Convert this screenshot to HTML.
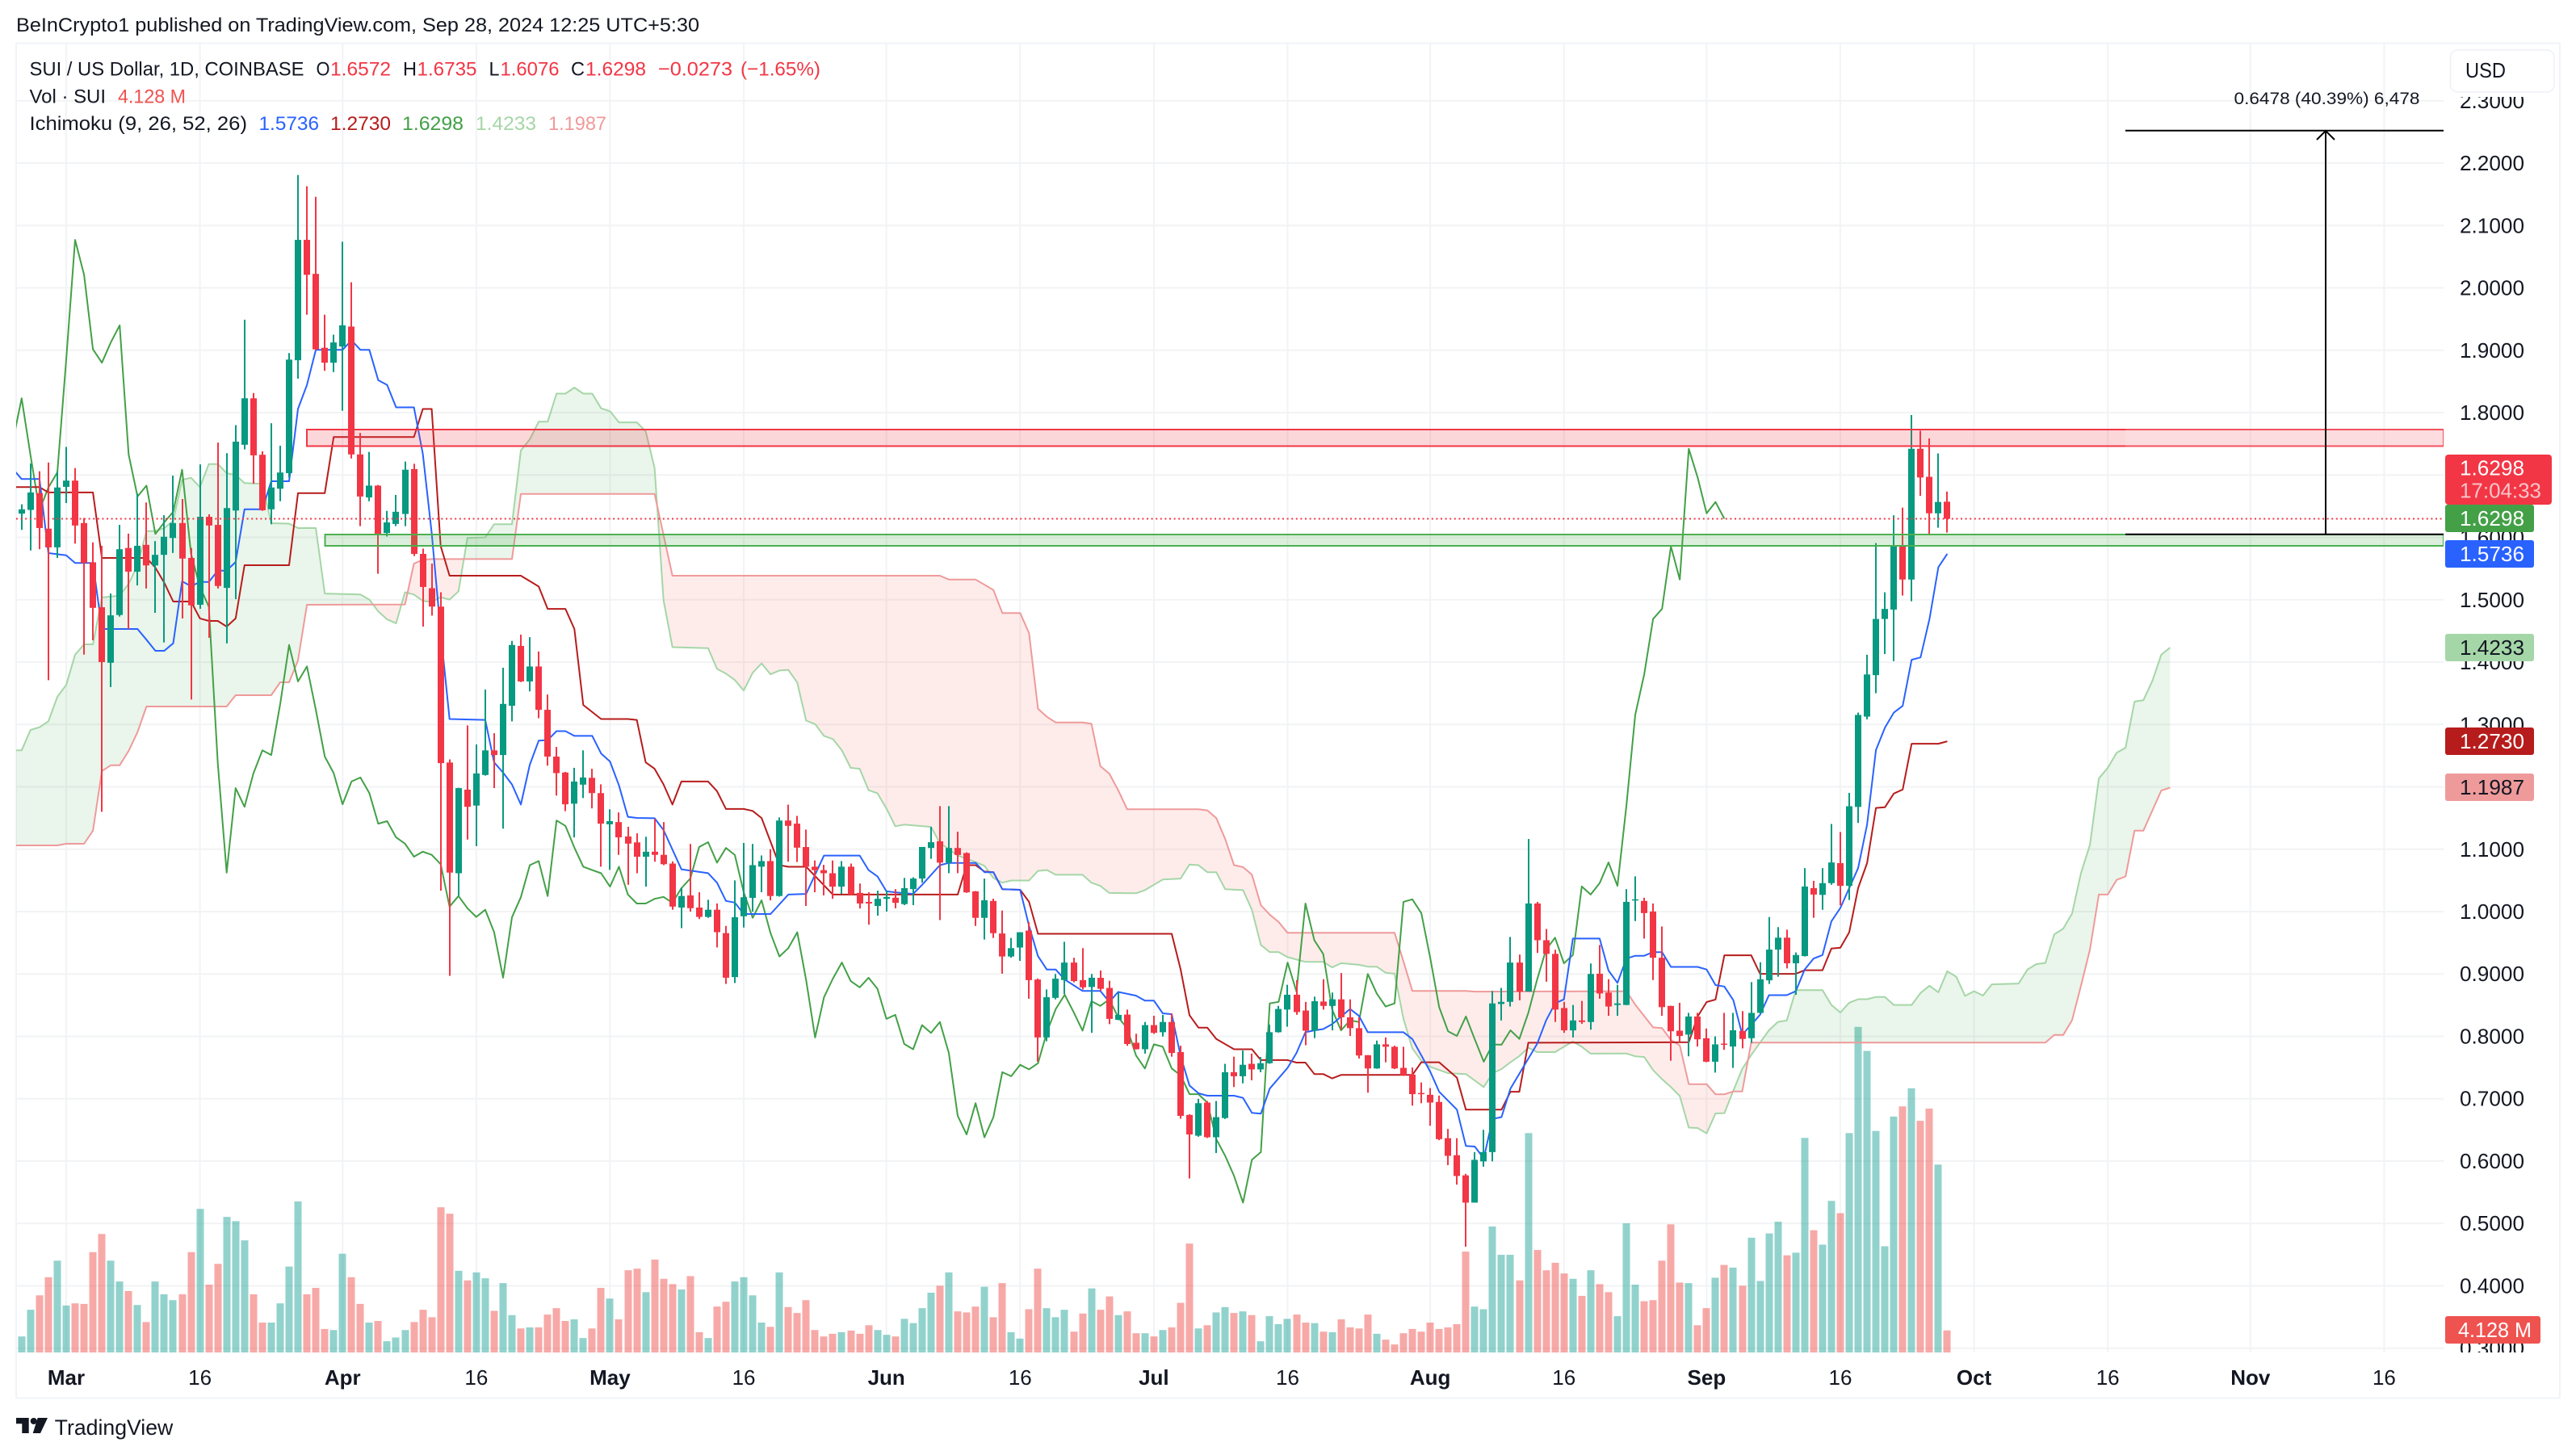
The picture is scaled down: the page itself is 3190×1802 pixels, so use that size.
<!DOCTYPE html>
<html lang="en">
<head>
<meta charset="utf-8">
<title>SUI / US Dollar chart</title>
<style>
html,body{margin:0;padding:0;background:#fff;width:3190px;height:1802px;overflow:hidden}
svg{display:block}
text{font-family:"Liberation Sans",sans-serif;fill:#131722;dominant-baseline:central}
</style>
</head>
<body>
<svg id="chart" xmlns="http://www.w3.org/2000/svg" width="3190" height="1802" viewBox="0 0 3190 1802">
  <defs>
    <clipPath id="pane-clip"><rect x="20" y="54" width="3006" height="1621"/></clipPath>
    <clipPath id="axis-clip"><rect x="3027" y="120" width="143" height="1555"/></clipPath>
  </defs>
  <rect x="0" y="0" width="3190" height="1802" fill="#ffffff"/>
  <text x="20" y="31.5" font-size="24.5" textLength="846" lengthAdjust="spacingAndGlyphs">BeInCrypto1 published on TradingView.com, Sep 28, 2024 12:25 UTC+5:30</text>
  <rect x="20" y="53.5" width="3150" height="1678" fill="none" stroke="#f0f3fa" stroke-width="2"/>
  <g id="grid"></g>
  <g id="plot" clip-path="url(#pane-clip)"></g>

  <g clip-path="url(#pane-clip)">
    <rect x="380" y="532" width="2646" height="20.5" fill="rgba(242,54,69,0.2)" stroke="#f23645" stroke-width="2"/>
    <rect x="402.5" y="662" width="2623.5" height="14" fill="rgba(76,175,80,0.2)" stroke="#4caf50" stroke-width="2"/>
    <rect x="2632" y="530" width="394" height="24" fill="rgba(255,255,255,0.14)"/>
    <line x1="2632" y1="161.7" x2="3026" y2="161.7" stroke="#000" stroke-width="2"/>
    <line x1="2632" y1="661.7" x2="3026" y2="661.7" stroke="#000" stroke-width="2"/>
    <line x1="2880" y1="162" x2="2880" y2="661" stroke="#000" stroke-width="2"/>
    <polyline points="2869,173 2880,162 2891,173" fill="none" stroke="#000" stroke-width="2"/>
    <text x="2766.5" y="122" font-size="21.5" textLength="230" lengthAdjust="spacingAndGlyphs">0.6478 (40.39%) 6,478</text>
  </g>

  <g id="price-axis" clip-path="url(#axis-clip)"></g>
  <g id="time-axis"></g>

  <g>
    <rect x="3034.5" y="62" width="128.5" height="52" rx="9" fill="#fff" stroke="#eef0f6" stroke-width="1.5"/>
    <text x="3053" y="88" font-size="25.5" textLength="50" lengthAdjust="spacingAndGlyphs">USD</text>
  </g>

  <g>
    <rect x="3028" y="563" width="132" height="62" rx="4" fill="#f23645"/>
    <text x="3046" y="579.5" font-size="26" textLength="80" lengthAdjust="spacingAndGlyphs" style="fill:#fff">1.6298</text>
    <text x="3046" y="607.5" font-size="26" textLength="101" lengthAdjust="spacingAndGlyphs" style="fill:#fbc4ca">17:04:33</text>
    <rect x="3028" y="625" width="110" height="34" rx="3" fill="#43a047"/>
    <text x="3046" y="642" font-size="26" textLength="80" lengthAdjust="spacingAndGlyphs" style="fill:#fff">1.6298</text>
    <rect x="3028" y="669" width="110" height="34" rx="3" fill="#2962ff"/>
    <text x="3046" y="686" font-size="26" textLength="80" lengthAdjust="spacingAndGlyphs" style="fill:#fff">1.5736</text>
    <rect x="3028" y="785" width="110" height="34" rx="3" fill="#a5d6a7"/>
    <text x="3046" y="802" font-size="26" textLength="80" lengthAdjust="spacingAndGlyphs">1.4233</text>
    <rect x="3028" y="901" width="110" height="34" rx="3" fill="#b71c1c"/>
    <text x="3046" y="918" font-size="26" textLength="80" lengthAdjust="spacingAndGlyphs" style="fill:#fff">1.2730</text>
    <rect x="3028" y="958" width="110" height="34" rx="3" fill="#ef9a9a"/>
    <text x="3046" y="975" font-size="26" textLength="80" lengthAdjust="spacingAndGlyphs">1.1987</text>
    <rect x="3028" y="1630" width="118" height="34" rx="3" fill="#ef5350"/>
    <text x="3044" y="1647" font-size="26" textLength="91" lengthAdjust="spacingAndGlyphs" style="fill:#fff">4.128 M</text>
  </g>

  <g font-size="24.5">
    <text x="36.5" y="86" textLength="340" lengthAdjust="spacingAndGlyphs">SUI / US Dollar, 1D, COINBASE</text>
    <text x="391.5" y="86" textLength="17" lengthAdjust="spacingAndGlyphs">O</text>
    <text x="409" y="86" textLength="75" lengthAdjust="spacingAndGlyphs" style="fill:#f23645">1.6572</text>
    <text x="499" y="86" textLength="17" lengthAdjust="spacingAndGlyphs">H</text>
    <text x="516.5" y="86" textLength="74" lengthAdjust="spacingAndGlyphs" style="fill:#f23645">1.6735</text>
    <text x="605.5" y="86" textLength="13" lengthAdjust="spacingAndGlyphs">L</text>
    <text x="619.5" y="86" textLength="73" lengthAdjust="spacingAndGlyphs" style="fill:#f23645">1.6076</text>
    <text x="707" y="86" textLength="17" lengthAdjust="spacingAndGlyphs">C</text>
    <text x="725" y="86" textLength="75" lengthAdjust="spacingAndGlyphs" style="fill:#f23645">1.6298</text>
    <text x="815" y="86" textLength="92" lengthAdjust="spacingAndGlyphs" style="fill:#f23645">−0.0273</text>
    <text x="917" y="86" textLength="99" lengthAdjust="spacingAndGlyphs" style="fill:#f23645">(−1.65%)</text>
    <text x="36.5" y="120" textLength="94.5" lengthAdjust="spacingAndGlyphs">Vol · SUI</text>
    <text x="146" y="120" textLength="84" lengthAdjust="spacingAndGlyphs" style="fill:#ef5350">4.128 M</text>
    <text x="36.5" y="153.5" textLength="269.5" lengthAdjust="spacingAndGlyphs">Ichimoku (9, 26, 52, 26)</text>
    <text x="320.5" y="153.5" textLength="74.5" lengthAdjust="spacingAndGlyphs" style="fill:#2962ff">1.5736</text>
    <text x="409" y="153.5" textLength="75" lengthAdjust="spacingAndGlyphs" style="fill:#b71c1c">1.2730</text>
    <text x="498" y="153.5" textLength="76" lengthAdjust="spacingAndGlyphs" style="fill:#43a047">1.6298</text>
    <text x="589" y="153.5" textLength="75" lengthAdjust="spacingAndGlyphs" style="fill:#a5d6a7">1.4233</text>
    <text x="679" y="153.5" textLength="72" lengthAdjust="spacingAndGlyphs" style="fill:#ef9a9a">1.1987</text>
  </g>

  <g>
    <path d="M20 1756H35.7V1775H27.3V1763.3H20Z" fill="#131722"/>
    <circle cx="41.7" cy="1760" r="4" fill="#131722"/>
    <polygon points="46.7,1756 59,1756 50,1775 40.7,1775" fill="#131722"/>
    <text x="67.7" y="1768" font-size="26.4" textLength="146.6" lengthAdjust="spacingAndGlyphs">TradingView</text>
  </g>
</svg>

<script>
// First entry of the candle arrays is day -5 relative to Mar 1 (Feb 25).
const firstDay = -5;
const opens = [1.638,1.644,1.671,1.614,1.584,1.681,1.691,1.623,1.56,1.488,1.399,1.4755,1.583,1.545,1.588,1.555,1.572,1.599,1.623,1.567,1.492,1.633,1.62,1.519,1.643,1.7485,1.823,1.7325,1.645,1.678,1.703,1.884,2.077,2.0225,1.904,1.88,1.906,1.938,1.733,1.664,1.683,1.607,1.6215,1.6375,1.7095,1.5735,1.5185,1.489,1.239,1.0615,1.1955,1.17,1.219,1.2585,1.251,1.33,1.426,1.369,1.393,1.3235,1.2485,1.223,1.173,1.2035,1.2145,1.19,1.14,1.1435,1.1205,1.111,1.088,1.096,1.091,1.077,1.0065,1.026,1.0065,0.9915,1.003,0.9655,0.895,0.9925,1.022,1.072,1.081,1.025,1.146,1.141,1.1035,1.072,1.0665,1.0615,1.04,1.072,1.03,1.0155,1.009,1.0205,1.0222,1.012,1.036,1.053,1.102,1.1128,1.0785,1.102,1.0939,1.0325,0.99,1.0171,0.9649,0.928,0.9424,0.9695,0.8911,0.7982,0.8617,0.8902,0.9183,0.8902,0.8791,0.8938,0.8776,0.8265,0.8349,0.7897,0.7793,0.818,0.8066,0.823,0.7748,0.674,0.6407,0.6938,0.6382,0.669,0.7425,0.736,0.7559,0.747,0.7569,0.8066,0.8429,0.8667,0.8414,0.8091,0.8558,0.8488,0.8593,0.8305,0.8131,0.7698,0.7485,0.7872,0.7833,0.7495,0.7386,0.7092,0.7063,0.6948,0.6367,0.6094,0.5771,0.5334,0.5995,0.6144,0.8518,0.8553,0.9183,0.8717,1.013,0.9541,0.9322,0.8454,0.8096,0.8255,0.823,0.9004,0.8702,0.8503,0.8503,1.0181,1.0171,1.0002,0.926,0.8488,0.8091,0.8028,0.8318,0.797,0.7593,0.7883,0.7836,0.8086,0.797,0.8376,0.8898,0.9391,0.9582,0.9171,0.9287,1.0377,1.0268,1.0456,1.0777,1.0413,1.1678,1.3126,1.3791,1.4692,1.4842,1.5855,1.5324,1.7421,1.6971,1.6386,1.6572];
const highs = [1.653,1.7185,1.706,1.72,1.706,1.745,1.711,1.631,1.592,1.5865,1.51,1.62,1.606,1.67,1.656,1.594,1.6355,1.699,1.6615,1.583,1.717,1.637,1.752,1.735,1.78,1.949,1.8315,1.738,1.783,1.747,1.8955,2.181,2.163,2.146,1.957,1.925,2.074,2.009,1.7675,1.737,1.684,1.6425,1.668,1.7215,1.718,1.582,1.558,1.512,1.244,1.1985,1.2985,1.268,1.356,1.286,1.391,1.434,1.444,1.44,1.417,1.348,1.264,1.224,1.2305,1.2585,1.229,1.204,1.164,1.159,1.136,1.1255,1.12,1.1485,1.1435,1.0805,1.0385,1.1085,1.031,1.019,1.013,0.977,1.05,1.11,1.1085,1.09,1.1,1.151,1.1715,1.1535,1.1315,1.082,1.075,1.082,1.081,1.077,1.045,1.031,1.0335,1.0335,1.036,1.054,1.055,1.1036,1.1358,1.1691,1.1691,1.1281,1.095,1.033,1.0529,1.0207,1.0017,0.9577,0.9669,0.9833,0.8927,0.8752,0.9,0.9516,0.926,0.9414,0.9,0.9055,0.8891,0.8702,0.8429,0.8041,0.823,0.833,0.8344,0.8369,0.785,0.675,0.6998,0.6963,0.6963,0.7559,0.7674,0.7773,0.7723,0.7669,0.819,0.8488,0.8826,0.8901,0.8553,0.8637,0.8916,0.8702,0.9015,0.8593,0.8305,0.77,0.7932,0.7982,0.785,0.7833,0.75,0.7261,0.7172,0.705,0.6516,0.6367,0.5796,0.6144,0.6501,0.8727,0.8776,0.9593,0.9311,1.1164,1.0156,0.9721,0.9388,0.8553,0.8503,0.8568,0.9168,0.9465,0.8916,0.8826,1.036,1.0565,1.0222,1.013,0.9762,0.849,0.8538,0.8376,0.8376,0.8126,0.7999,0.8376,0.8376,0.8405,0.8869,0.9188,0.9913,0.9751,0.971,0.9345,1.0697,1.0493,1.0697,1.1405,1.1276,1.1903,1.319,1.4118,1.5909,1.512,1.6354,1.6477,1.7962,1.771,1.7587,1.7346,1.6735];
const lows = [1.612,1.579,1.581,1.371,1.567,1.655,1.59,1.412,1.435,1.16,1.36,1.473,1.453,1.523,1.518,1.479,1.4315,1.575,1.47,1.34,1.4855,1.439,1.518,1.43,1.501,1.741,1.686,1.6425,1.621,1.658,1.696,1.8545,1.957,1.9,1.867,1.865,1.803,1.7265,1.618,1.658,1.5417,1.6015,1.618,1.618,1.57,1.457,1.4746,1.0335,0.897,1.0258,1.1155,1.105,1.218,1.198,1.133,1.305,1.368,1.353,1.31,1.234,1.186,1.161,1.119,1.182,1.1655,1.072,1.067,1.091,1.043,1.0615,1.04,1.08,1.0745,1.003,0.9735,1,0.988,0.99,0.9425,0.884,0.8855,0.9745,1,1.031,1.018,1.024,1.08,1.0795,1.009,1.031,1.026,1.0205,1.0285,1.026,1.005,0.979,0.9935,1,1.0053,1.0104,1.0104,1.0463,1.0846,0.9864,1.0616,1.0616,1.03,0.977,0.9552,0.9577,0.9004,0.926,0.921,0.8603,0.7594,0.7922,0.8593,0.8677,0.8866,0.875,0.8056,0.8727,0.8195,0.826,0.7848,0.779,0.7723,0.804,0.7997,0.7674,0.668,0.5721,0.639,0.637,0.6129,0.6675,0.7187,0.7246,0.7296,0.7425,0.756,0.806,0.8155,0.8345,0.7857,0.7972,0.8429,0.8096,0.8106,0.8006,0.7644,0.7097,0.748,0.7584,0.7475,0.7365,0.6889,0.6928,0.6566,0.6335,0.5935,0.5622,0.4628,0.5334,0.591,0.5995,0.8255,0.8478,0.8578,0.8717,0.9337,0.8876,0.823,0.8056,0.7982,0.82,0.8106,0.8603,0.8329,0.8329,0.85,0.9848,0.9567,0.8902,0.8329,0.7609,0.7907,0.768,0.7836,0.7585,0.7419,0.7784,0.7494,0.7807,0.7894,0.837,0.884,0.8956,0.9089,0.8666,0.928,0.9901,1.0029,1.043,1.0099,1.0186,1.1421,1.3083,1.3501,1.4129,1.4016,1.5067,1.4976,1.6665,1.6043,1.6155,1.6076];
const closes = [1.645,1.672,1.615,1.584,1.68,1.691,1.619,1.559,1.487,1.4,1.475,1.581,1.545,1.5865,1.555,1.572,1.601,1.623,1.566,1.491,1.633,1.619,1.522,1.647,1.7535,1.823,1.7315,1.6435,1.68,1.704,1.885,2.077,2.021,1.9015,1.88,1.9125,1.94,1.733,1.6655,1.683,1.6055,1.624,1.641,1.7085,1.5735,1.5205,1.489,1.238,1.0625,1.198,1.168,1.2215,1.2585,1.251,1.333,1.4275,1.369,1.393,1.3235,1.2485,1.222,1.172,1.2085,1.215,1.19,1.141,1.145,1.119,1.109,1.088,1.096,1.091,1.076,1.008,1.025,1.0055,0.9915,1.003,0.967,0.894,0.991,1.023,1.0745,1.081,1.025,1.146,1.1375,1.1025,1.072,1.0665,1.0615,1.04,1.072,1.0275,1.013,1.013,1.0205,1.0235,1.014,1.0376,1.053,1.1036,1.1113,1.0785,1.102,1.0908,1.0309,0.99,1.0181,0.9654,0.928,0.9414,0.9669,0.8901,0.7982,0.8627,0.8925,0.9183,0.8886,0.8786,0.894,0.8762,0.828,0.8344,0.7877,0.7793,0.818,0.8056,0.823,0.7733,0.6725,0.6427,0.6928,0.6382,0.6705,0.7425,0.736,0.7544,0.747,0.7569,0.8066,0.8439,0.8667,0.8389,0.8091,0.8563,0.8488,0.8593,0.8305,0.8131,0.7693,0.7485,0.7872,0.7833,0.7485,0.7376,0.7073,0.7073,0.6938,0.6352,0.6084,0.5761,0.5334,0.602,0.6144,0.8528,0.8553,0.9183,0.8717,1.013,0.9541,0.9322,0.8429,0.8096,0.8255,0.823,0.9,0.8687,0.8478,0.8528,1.0156,1.0197,0.9976,0.926,0.8468,0.8081,0.8006,0.8318,0.7952,0.7593,0.7871,0.7865,0.8097,0.7958,0.8376,0.8915,0.9391,0.9582,0.9171,0.9304,1.0402,1.0273,1.0456,1.0788,1.0413,1.1689,1.3153,1.3802,1.4692,1.4853,1.5855,1.5324,1.7421,1.696,1.6386,1.6568,1.6298];
const volumes = [3,8,10.7,14.1,17.2,8.8,9.2,9.1,18.8,22.2,17.2,13.3,11.5,8.9,5.7,13.3,10.9,9.8,10.9,18.8,26.9,12.7,16.6,25.4,24.6,21,10.9,5.6,5.6,9.2,16.1,28.3,10.9,12.1,4.4,4.2,18.5,14.1,9.1,5.6,5.9,2.1,2.8,4.2,5.7,8,6.6,27.2,26,15.3,13.5,15,13.9,7.8,13,7,4.5,4.7,4.7,7.1,8.3,5.9,6.2,2.7,4.5,12.1,10.1,6.2,15.4,15.7,11.3,17.4,13.8,12.8,11.8,14.3,3.8,2.7,8.6,9.5,13.3,14.1,10.7,5.6,4.8,15,8.5,7.4,9.8,4.2,3,3.5,3.8,4.1,3.5,5.1,4.2,3.3,3,6.3,5.5,8.3,11.2,12.5,15,7.7,7.5,8.6,12.3,6.6,13,3.8,2.6,8.1,15.7,8.3,6.6,8,3.9,7.3,12,8,10.5,7,7.7,3.6,3.6,3,4.2,4.7,9.3,20.4,4.5,5.1,7.5,8.5,7.4,7.7,7,2.1,6.8,5.3,6.3,7.1,5.6,5.5,3.9,3.8,6.2,4.7,4.5,7.1,3.5,2.4,1.5,3.6,4.4,3.9,5.6,4.4,4.7,5.3,18.9,8.6,8.1,23.6,18.3,18.3,13.5,41.1,19.2,15.4,16.8,14.8,13.8,10.6,15.4,12.8,11.3,6.8,24.2,12.7,9.6,9.8,17.2,24,13.1,13,5.1,8.3,14,16.4,15.9,12.5,21.5,13.4,22.3,24.5,18.2,18.7,40.2,22.9,20.2,28.4,26.1,41.1,61,56.5,41.5,19.9,44.2,46.1,49.5,43.4,45.7,35.2,4.128];

// Ichimoku lines, read as [day, price] vertices.
const conversionLine = [[-6,1.71],[-5,1.6935],[-3,1.6935],[-2,1.5748],[0,1.5713],[1,1.559],[3,1.559],[4,1.4531],[8,1.4531],[9,1.4359],[10,1.4182],[11,1.4182],[12,1.4302],[13,1.5295],[14,1.5217],[15,1.5286],[16,1.5286],[17,1.5467],[18,1.5467],[19,1.5605],[20,1.6451],[22,1.6451],[23,1.69],[25,1.69],[26,1.806],[27,1.8443],[28,1.9006],[31,1.9006],[32,1.916],[33,1.9006],[34,1.9006],[35,1.852],[36,1.8443],[37,1.8085],[39,1.8085],[40,1.734],[41,1.607],[42,1.448],[43,1.3088],[47,1.3073],[48,1.2392],[49,1.2228],[50,1.2039],[51,1.1717],[52,1.2356],[53,1.274],[54,1.275],[55,1.2893],[56,1.2893],[57,1.2817],[59,1.2817],[60,1.2535],[61,1.2407],[62,1.2024],[63,1.152],[64,1.1502],[66,1.1497],[67,1.1307],[69,1.0678],[70,1.0657],[72,1.0616],[73,1.0463],[74,1.0171],[75,1.0145],[76,0.9961],[79,0.9961],[81,1.0273],[83,1.0284],[85,1.0898],[89,1.0898],[90,1.0665],[91,1.0565],[92,1.0325],[93,1.0309],[95,1.0284],[96,1.0427],[98,1.0744],[99,1.078],[102,1.078],[103,1.0632],[104,1.0632],[105,1.036],[107,1.035],[108,0.9772],[109,0.9286],[110,0.9071],[111,0.9071],[112,0.8911],[114,0.8727],[116,0.8727],[117,0.8553],[118,0.8712],[120,0.8652],[121,0.8573],[122,0.8573],[123,0.8369],[124,0.8354],[125,0.7684],[126,0.7212],[127,0.7087],[128,0.7048],[131,0.7048],[132,0.7013],[133,0.6774],[134,0.676],[135,0.7162],[137,0.7495],[138,0.7733],[139,0.8066],[140,0.8096],[141,0.8116],[142,0.8195],[144,0.8439],[145,0.8329],[146,0.8066],[150,0.8066],[151,0.7957],[153,0.7435],[154,0.7112],[156,0.6824],[157,0.6243],[158,0.6233],[159,0.6044],[160,0.6675],[161,0.6705],[162,0.7162],[165,0.7882],[166,0.8255],[167,0.8528],[168,0.8593],[169,0.9567],[172,0.9567],[173,0.9055],[174,0.8857],[175,0.9246],[176,0.9292],[177,0.9292],[178,0.935],[179,0.935],[180,0.9113],[183,0.9113],[184,0.9072],[185,0.8822],[186,0.8799],[187,0.8579],[188,0.8028],[189,0.8184],[190,0.8347],[191,0.866],[193,0.866],[194,0.8724],[195,0.9072],[196,0.9246],[197,0.9304],[198,0.9843],[199,1.0058],[200,1.0377],[201,1.0697],[202,1.1394],[203,1.259],[204,1.2949],[205,1.319],[206,1.3298],[207,1.4038],[208,1.4075],[209,1.4692],[210,1.5523],[211,1.5736]];
const baseLine = [[-6,1.6805],[-3,1.6805],[-2,1.672],[3,1.672],[4,1.567],[9,1.567],[10,1.5515],[11,1.5273],[12,1.4971],[14,1.4971],[15,1.47],[16,1.466],[17,1.466],[18,1.457],[19,1.47],[20,1.5554],[25,1.5554],[26,1.671],[29,1.671],[30,1.7608],[39,1.7608],[40,1.8059],[41,1.8059],[42,1.5862],[43,1.5386],[51,1.5386],[53,1.5212],[54,1.4854],[56,1.4854],[57,1.4531],[58,1.3313],[60,1.3088],[63,1.3088],[64,1.3073],[65,1.2392],[66,1.229],[67,1.2039],[68,1.1717],[69,1.2085],[72,1.2085],[73,1.1931],[74,1.1645],[76,1.1645],[77,1.1614],[78,1.1501],[80,1.0744],[81,1.0718],[83,1.0718],[86,1.0273],[100,1.0273],[101,1.0744],[102,1.0744],[103,1.0642],[104,1.0632],[105,1.036],[107,1.035],[108,1.0156],[109,0.9644],[124,0.9644],[125,0.9075],[126,0.8339],[127,0.814],[128,0.814],[129,0.7957],[131,0.7793],[133,0.7793],[134,0.7619],[137,0.7619],[138,0.7579],[139,0.7579],[140,0.7395],[141,0.7395],[142,0.7326],[143,0.7381],[151,0.7381],[152,0.7584],[154,0.7584],[156,0.7336],[157,0.6824],[161,0.6824],[162,0.7112],[163,0.7112],[164,0.7897],[182,0.7906],[183,0.8318],[184,0.855],[185,0.859],[186,0.93],[189,0.93],[190,0.9002],[194,0.9002],[195,0.906],[197,0.906],[198,0.9408],[199,0.942],[200,0.9669],[201,1.0377],[202,1.0777],[203,1.1662],[204,1.1673],[205,1.1893],[206,1.1957],[207,1.2692],[210,1.2692],[211,1.273]];
const spanA = [[-6,1.2585],[-5,1.2585],[-4,1.2913],[-3,1.2956],[-2,1.3051],[-1,1.3443],[0,1.3634],[1,1.412],[2,1.4285],[3,1.4285],[4,1.5036],[6,1.5066],[7,1.5256],[8,1.5554],[9,1.6101],[10,1.6101],[11,1.6148],[12,1.6266],[13,1.6922],[14,1.6956],[15,1.6805],[16,1.7176],[17,1.7176],[18,1.703],[19,1.7],[20,1.6872],[22,1.686],[23,1.6227],[25,1.622],[26,1.6149],[28,1.6149],[29,1.51],[33,1.5084],[34,1.5002],[35,1.4813],[36,1.4685],[37,1.4623],[38,1.512],[39,1.5084],[40,1.4982],[41,1.4965],[42,1.5043],[43,1.5002],[44,1.5135],[45,1.599],[47,1.6],[48,1.621],[50,1.621],[51,1.7393],[52,1.7572],[53,1.7854],[54,1.7854],[55,1.8305],[56,1.8305],[57,1.8402],[58,1.8305],[59,1.8305],[60,1.8069],[61,1.8023],[62,1.7844],[64,1.7844],[65,1.77],[66,1.7112],[67,1.4992],[68,1.424],[72,1.4224],[73,1.3892],[74,1.3815],[75,1.3713],[76,1.3544],[77,1.383],[78,1.3979],[79,1.3805],[80,1.3866],[81,1.3876],[82,1.3671],[83,1.3062],[84,1.3006],[85,1.2817],[86,1.2766],[87,1.2586],[88,1.2305],[89,1.229],[90,1.1947],[91,1.1896],[92,1.1655],[93,1.1368],[94,1.1394],[97,1.1358],[98,1.1102],[99,1.1],[100,1.0898],[102,1.0795],[103,1.0734],[104,1.0539],[105,1.0463],[106,1.0499],[108,1.0499],[109,1.0652],[110,1.0667],[111,1.059],[114,1.059],[115,1.0463],[116,1.0412],[117,1.0299],[120,1.0294],[121,1.0345],[123,1.0514],[125,1.0529],[126,1.0755],[127,1.0745],[128,1.0632],[129,1.0632],[130,1.036],[132,1.0345],[133,1.0028],[134,0.9465],[135,0.9352],[136,0.9352],[137,0.927],[139,0.9193],[141,0.9193],[142,0.9106],[143,0.9173],[145,0.9147],[146,0.9117],[147,0.9117],[148,0.902],[149,0.9004],[150,0.828],[151,0.7808],[152,0.7609],[153,0.751],[154,0.746],[155,0.741],[157,0.7395],[159,0.7187],[160,0.741],[161,0.7475],[162,0.7584],[163,0.7684],[164,0.7818],[165,0.7748],[167,0.7748],[168,0.7833],[169,0.7917],[170,0.7833],[171,0.7723],[175,0.7726],[176,0.768],[177,0.7668],[178,0.7459],[179,0.7314],[180,0.7187],[181,0.7042],[182,0.6537],[183,0.653],[184,0.6444],[185,0.6763],[186,0.6769],[187,0.7129],[188,0.7477],[189,0.77],[190,0.79],[191,0.8097],[192,0.8231],[193,0.8254],[194,0.8741],[197,0.8741],[198,0.8503],[199,0.8382],[200,0.8538],[201,0.8596],[202,0.8596],[203,0.8631],[204,0.8631],[205,0.8503],[207,0.8503],[208,0.8695],[209,0.8811],[210,0.8707],[211,0.9043],[212,0.8956],[213,0.8648],[214,0.8724],[215,0.8654],[216,0.8834],[219,0.8846],[220,0.9072],[221,0.9159],[222,0.9176],[223,0.9635],[224,0.9727],[225,0.9971],[226,1.0617],[227,1.1072],[228,1.2134],[229,1.2306],[230,1.2547],[231,1.2627],[232,1.3367],[233,1.3389],[234,1.37],[235,1.4118],[236,1.4233]];
const spanB = [[-6,1.1061],[-1,1.1061],[0,1.1087],[2,1.1087],[3,1.1297],[4,1.2254],[5,1.2346],[6,1.2346],[7,1.2576],[8,1.2878],[9,1.3288],[18,1.3288],[19,1.347],[23,1.347],[24,1.3677],[25,1.3677],[26,1.4026],[27,1.4919],[38,1.4925],[39,1.558],[40,1.5642],[41,1.5652],[50,1.5652],[51,1.6696],[66,1.6696],[68,1.5386],[98,1.5386],[99,1.5325],[102,1.5325],[104,1.5156],[105,1.4787],[107,1.4787],[108,1.4465],[109,1.3252],[110,1.3124],[111,1.3032],[114,1.3032],[115,1.3011],[116,1.2331],[117,1.2213],[118,1.1947],[119,1.164],[127,1.164],[128,1.1624],[129,1.1501],[130,1.1164],[131,1.0744],[132,1.0713],[133,1.0591],[134,1.0104],[135,0.9951],[136,0.9833],[137,0.9659],[149,0.9659],[150,0.92],[151,0.8727],[157,0.8727],[158,0.8717],[175,0.8724],[176,0.8509],[178,0.8144],[179,0.8132],[180,0.7941],[181,0.7854],[182,0.7233],[184,0.7233],[185,0.7071],[186,0.7071],[187,0.7117],[188,0.7117],[189,0.79],[222,0.79],[223,0.8022],[224,0.8022],[225,0.826],[226,0.8811],[227,0.9391],[228,1.0273],[229,1.0273],[230,1.0509],[231,1.0563],[232,1.1298],[233,1.1298],[235,1.1941],[236,1.1987]];
const laggingOffsetDays = 25;

const priceTickValues = [2.3,2.2,2.1,2.0,1.9,1.8,1.7,1.6,1.5,1.4,1.3,1.2,1.1,1.0,0.9,0.8,0.7,0.6,0.5,0.4,0.3];
const priceTickLabels = ["2.3000","2.2000","2.1000","2.0000","1.9000","1.8000","1.7000","1.6000","1.5000","1.4000","1.3000","1.2000","1.1000","1.0000","0.9000","0.8000","0.7000","0.6000","0.5000","0.4000","0.3000"];
const timeTickDays = [0,15,31,46,61,76,92,107,122,137,153,168,184,199,214,229,245,260];
const timeTickLabels = ["Mar","16","Apr","16","May","16","Jun","16","Jul","16","Aug","16","Sep","16","Oct","16","Nov","16"];
const lastClose = 1.6298;

const NS = "http://www.w3.org/2000/svg";
function xOf(day){ return 82 + 11.04 * day; }
function yOf(price){ return 1129 + (1 - price) * 772.45; }
function volumeHeight(m){ return m * 6.61; }
const VOLUME_BASE = 1675;

function mk(tag, attrs, parent){
  const el = document.createElementNS(NS, tag);
  for (const k in attrs) el.setAttribute(k, attrs[k]);
  parent.appendChild(el);
  return el;
}
function valueAt(points, day){
  if (day <= points[0][0]) return points[0][1];
  for (let i = 1; i < points.length; i++) {
    if (day <= points[i][0]) {
      const a = points[i-1], b = points[i];
      return a[1] + (b[1]-a[1]) * (day-a[0]) / (b[0]-a[0]);
    }
  }
  return points[points.length-1][1];
}
function pathOf(points){
  return points.map(function(p,i){ return (i?"L":"M") + xOf(p[0]).toFixed(1) + " " + yOf(p[1]).toFixed(1); }).join("");
}

const grid = document.getElementById("grid");
const plot = document.getElementById("plot");
const priceAxis = document.getElementById("price-axis");
const timeAxis = document.getElementById("time-axis");

// grid + axis labels
timeTickDays.forEach(function(day, i){
  const x = xOf(day);
  const v = mk("line", {x1:x, x2:x, y1:54, y2:1675, stroke:"#f2f3f6", "stroke-width":2}, grid);
  
  
  const label = timeTickLabels[i];
  const t = mk("text", {x:x, y:1706, "font-size":26, "text-anchor":"middle", "font-weight": label === "16" ? "400" : "700"}, timeAxis);
  t.textContent = label;
  
  
});
priceTickValues.forEach(function(price, i){
  const y = yOf(price);
  const h = mk("line", {x1:20, x2:3026, y1:y, y2:y, stroke:"#f2f3f4", "stroke-width":2}, grid);
  
  
  const t = mk("text", {x:3046, y:y, "font-size":26, textLength:80, lengthAdjust:"spacingAndGlyphs"}, priceAxis);
  t.textContent = priceTickLabels[i];
  
  
});

// volume
volumes.forEach(function(m, i){
  const day = firstDay + i;
  const h = volumeHeight(m);
  const up = closes[i] >= opens[i];
  const r = mk("rect", {x:Math.round(xOf(day))-4.5, y:VOLUME_BASE-h, width:9, height:h, fill: up ? "rgba(38,166,154,0.5)" : "rgba(239,83,80,0.5)"}, plot);
  
  
});

// cloud
(function(){
  const startDay = spanA[0][0], endDay = spanA[spanA.length-1][0];
  let top = [], bottom = [], sign = 0;
  function flush(){
    if (!top.length) return;
    const pts = top.concat(bottom.slice().reverse());
    const p = mk("path", {d: pathOf(pts) + "Z", fill: sign > 0 ? "rgba(67,160,71,0.11)" : "rgba(244,67,54,0.10)"}, plot);
    
    
    top = []; bottom = [];
  }
  for (let d = startDay; d <= endDay; d++) {
    const a = valueAt(spanA, d), b = valueAt(spanB, d);
    const s = a >= b ? 1 : -1;
    if (sign && s !== sign) {
      const pa = valueAt(spanA, d-1), pb = valueAt(spanB, d-1);
      const diff0 = pa - pb, diff1 = a - b;
      const t = diff0 / (diff0 - diff1);
      const cd = d - 1 + t, cv = pa + (a - pa) * t;
      top.push([cd, cv]); bottom.push([cd, cv]);
      flush();
      top.push([cd, cv]); bottom.push([cd, cv]);
    }
    sign = s;
    top.push([d, a]); bottom.push([d, b]);
  }
  flush();
})();

// ichimoku lines
const lagging = [];
for (let d = firstDay - 1; d + laggingOffsetDays <= firstDay + closes.length - 1; d++) {
  lagging.push([d, closes[d + laggingOffsetDays - firstDay]]);
}
const spanALine = mk("path", {d:pathOf(spanA), fill:"none", stroke:"#a5d6a7", "stroke-width":2, "stroke-linejoin":"round"}, plot);


const spanBLine = mk("path", {d:pathOf(spanB), fill:"none", stroke:"#ef9a9a", "stroke-width":2, "stroke-linejoin":"round"}, plot);


const laggingLine = mk("path", {d:pathOf(lagging), fill:"none", stroke:"#43a047", "stroke-width":2, "stroke-linejoin":"round"}, plot);


const baseLinePath = mk("path", {d:pathOf(baseLine), fill:"none", stroke:"#b71c1c", "stroke-width":2, "stroke-linejoin":"round"}, plot);


const conversionPath = mk("path", {d:pathOf(conversionLine), fill:"none", stroke:"#2962ff", "stroke-width":2, "stroke-linejoin":"round"}, plot);



// candles
opens.forEach(function(o, i){
  const day = firstDay + i;
  const cx = Math.round(xOf(day));
  const c = closes[i];
  const color = c >= o ? "#089981" : "#f23645";
  const wick = mk("rect", {x:cx-1, y:yOf(highs[i]), width:2, height:Math.max(1, yOf(lows[i])-yOf(highs[i])), fill:color}, plot);
  
  
  const top = yOf(Math.max(o,c));
  const body = mk("rect", {x:cx-4, y:top, width:8, height:Math.max(1.5, yOf(Math.min(o,c))-top), fill:color}, plot);
  
  
});

// last price line
const lastLine = mk("line", {x1:20, x2:3026, y1:yOf(lastClose), y2:yOf(lastClose), stroke:"#f23645", "stroke-width":2, "stroke-dasharray":"2 3.6"}, plot);


</script>
</body>
</html>
